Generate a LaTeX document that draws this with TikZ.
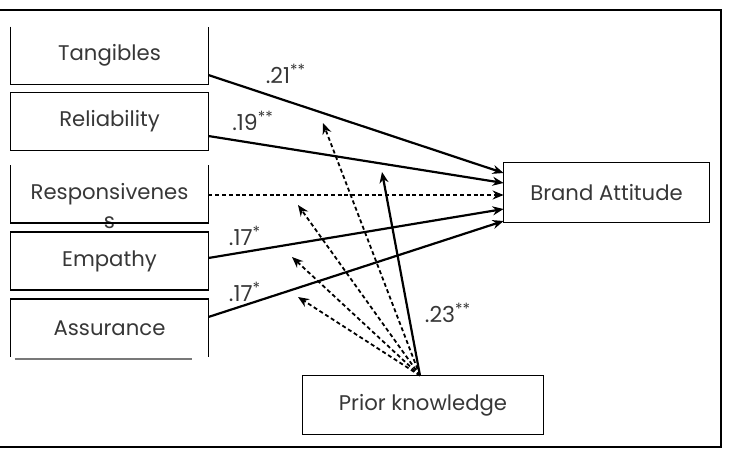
\documentclass[tikz,border=0pt]{standalone}
\usepackage{fontspec}
\setmainfont{Poppins}
\usetikzlibrary{arrows.meta,calc}

\begin{document}
\begin{tikzpicture}[x=0.5pt,y=-0.5pt,
  construct/.style={minimum width=98.5pt,minimum height=28.5pt,inner sep=0pt,text=my_text,font=\fontsize{10.6}{12}\selectfont},
  box/.style={line width=0.7pt},
  path_solid/.style={line width=1.1pt,-{Stealth[length=5.5pt,width=4.5pt]}},
  path_dashed/.style={line width=0.9pt,dash pattern=on 2pt off 1.4pt,-{Stealth[length=5.5pt,width=4.5pt]}},
  coef/.style={text=my_text,font=\fontsize{11}{12}\selectfont,inner sep=0pt}]
\definecolor{my_text}{RGB}{55,55,55}
\definecolor{my_gray}{RGB}{120,120,120}

\useasboundingbox (0,0) rectangle (729,450);
\draw[line width=1.4pt] (0,10) -- (721,10) -- (721,447) -- (0,447);

\foreach \n/\y/\t in {tan/55.5/Tangibles,rel/121.5/Reliability,res/194/Responsivenes,emp/261/Empathy,ass/328/Assurance}
    \node[construct] (\n) at (109.5,\y) {\t};
\node[construct,anchor=center] (res_s) at (res.south) {s};

\node[construct,minimum width=102.5pt,minimum height=29.5pt] (ba) at (606.5,192.5) {Brand Attitude};
\node[construct,minimum width=120pt,minimum height=29pt] (pk) at (423,405) {Prior knowledge};

\draw[box] (rel.north west) rectangle (rel.south east);
\draw[box] (emp.north west) rectangle (emp.south east);
\draw[box] (ba.north west) rectangle (ba.south east);
\draw[box] (pk.north west) rectangle (pk.south east);
\draw[box] (tan.north west) -- (tan.south west) -- (tan.south east) -- (tan.north east);
\draw[box] (res.north west) -- (res.south west) -- (res.south east) -- (res.north east);
\draw[box] (ass.south west) -- (ass.north west) -- (ass.north east) -- (ass.south east);
\draw[box,my_gray] ($(ass.south west)+(4,2)$) -- ($(ass.south east)+(-16,2)$);

% direct paths
\draw[path_solid] ($(tan.east)+(0,19.5)$) -- ($(ba.west)+(0,-19.5)$);
\draw[path_solid] ($(rel.east)+(0,14.5)$) -- ($(ba.west)+(0,-9.5)$);
\draw[path_dashed] ($(res.east)+(0,1)$) -- ($(ba.west)+(0,2.5)$);
\draw[path_solid] ($(emp.east)+(0,-3)$) -- ($(ba.west)+(0,16.5)$);
\draw[path_solid] ($(ass.east)+(0,-11)$) -- ($(ba.west)+(0,28.5)$);

\node[coef] (c_tan) at (286,74) {.21\textsuperscript{**}};
\node[coef] (c_rel) at (253,121) {.19\textsuperscript{**}};
\node[coef] (c_emp) at (245,236) {.17\textsuperscript{*}};
\node[coef] (c_ass) at (245,292) {.17\textsuperscript{*}};
\node[coef] (c_pk) at (448,313) {.23\textsuperscript{**}};

% moderation by prior knowledge
\coordinate (pk_top) at ($(pk.north)+(-3,0)$);
\coordinate (m_tan) at (323,123);
\coordinate (m_res) at (298,205);
\coordinate (m_emp) at (292,257);
\coordinate (m_ass) at (298,297);
\coordinate (m_ba) at (382,172);
\foreach \m in {m_tan,m_res,m_emp,m_ass}
    \draw[path_dashed] (pk_top) -- (\m);
\draw[path_solid] (pk_top) -- (m_ba);
\end{tikzpicture}
\end{document}
